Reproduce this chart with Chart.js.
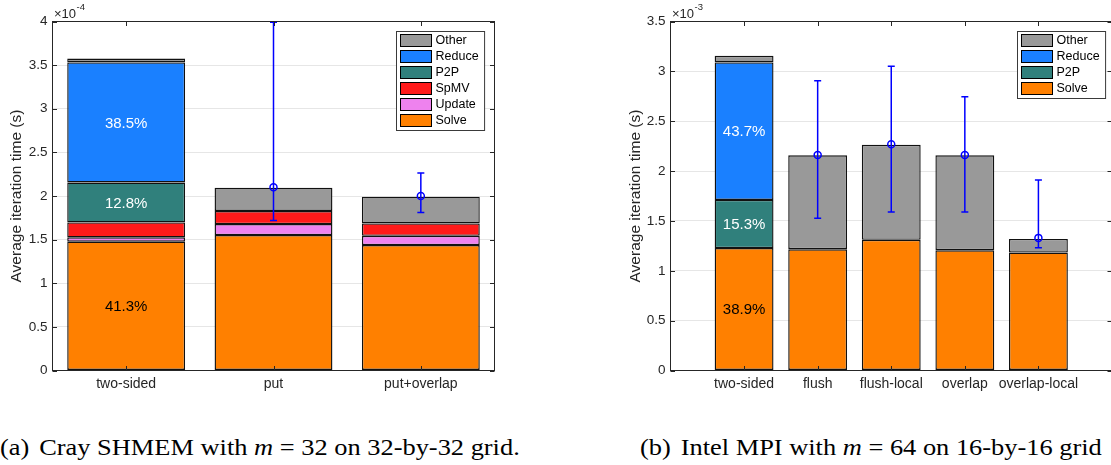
<!DOCTYPE html>
<html>
<head>
<meta charset="utf-8">
<script src="https://cdn.jsdelivr.net/npm/chart.js@4"></script>
<style>
  html, body { margin: 0; padding: 0; background: #fff; width: 1111px; height: 465px; overflow: hidden; }
  canvas { position: absolute; top: 0; }
  #chartA { left: 0; }
  #chartB { left: 560px; }
  .cap { position: absolute; top: 435px; line-height: 24px; font-family: "Liberation Serif", "Times New Roman", serif; font-size: 24px; color: #000; white-space: nowrap; transform: scaleX(1.1); transform-origin: 0 0; }
  .cap i { font-style: italic; }
  .cap .tag { margin-right: 9px; }
</style>
</head>
<body>
<canvas id="chartA" width="555" height="400"></canvas>
<canvas id="chartB" width="560" height="400"></canvas>
<div class="cap" style="left:0px"><span class="tag">(a)</span>Cray SHMEM with <i>m</i> = 32 on 32-by-32 grid.</div>
<div class="cap" style="left:640px"><span class="tag">(b)</span>Intel MPI with <i>m</i> = 64 on 16-by-16 grid</div>
<script>
// (a) Cray SHMEM, times in units of 1e-4 s
var catsA   = ['two-sided', 'put', 'put+overlap'];
var solveA  = [1.476, 1.552, 1.437];
var updateA = [0.050, 0.126, 0.107];
var spmvA   = [0.171, 0.150, 0.142];
var p2pA    = [0.458, 0, 0];
var reduceA = [1.376, 0, 0];
var otherA  = [0.045, 0.267, 0.306];
var meanA   = [null, 2.10, 2.00];
var lowA    = [null, 1.72, 1.81];
var highA   = [null, 3.99, 2.265];
var yTicksA = [0, 0.5, 1, 1.5, 2, 2.5, 3, 3.5, 4];

// (b) Intel MPI, times in units of 1e-3 s
var catsB   = ['two-sided', 'flush', 'flush-local', 'overlap', 'overlap-local'];
var solveB  = [1.228, 1.216, 1.310, 1.206, 1.183];
var p2pB    = [0.483, 0, 0, 0, 0];
var reduceB = [1.379, 0, 0, 0, 0];
var otherB  = [0.066, 0.942, 0.954, 0.952, 0.137];
var meanB   = [null, 2.16, 2.27, 2.16, 1.33];
var lowB    = [null, 1.528, 1.59, 1.59, 1.23];
var highB   = [null, 2.905, 3.05, 2.745, 1.91];
var yTicksB = [0, 0.5, 1, 1.5, 2, 2.5, 3, 3.5];

var colors = {
  Solve: '#ff8000',
  Update: '#ee82ee',
  SpMV: '#ff1a1a',
  P2P: '#30807c',
  Reduce: '#1a80ff',
  Other: '#999999'
};

var sans = '"Liberation Sans", Arial, Helvetica, sans-serif';
var axisColor = '#262626';

function stackSet(label, vals, pos) {
  return {
    type: 'bar',
    label: label,
    data: pos.map(function (x, i) { return { x: x, y: vals[i] > 0 ? vals[i] : null }; }),
    backgroundColor: colors[label],
    borderColor: '#111',
    borderWidth: 1.4,
    borderSkipped: false,
    categoryPercentage: 1,
    barPercentage: 0.8
  };
}

function meanSet(vals, pos) {
  return {
    type: 'line',
    label: 'mean',
    stack: 'err',
    order: -1,
    showLine: false,
    data: pos.map(function (x, i) { return { x: x, y: vals[i] }; }),
    pointStyle: 'circle',
    pointRadius: 3.5,
    pointBorderWidth: 1.5,
    pointBorderColor: '#0000ff',
    pointBackgroundColor: 'rgba(0,0,0,0)'
  };
}

// matlab-ish axes box, inward ticks, error whiskers, share labels, legend, exponent
var matlabLook = {
  id: 'matlabLook',
  afterDatasetsDraw: function (chart, args, o) {
    var ctx = chart.ctx, ca = chart.chartArea, x = chart.scales.x, y = chart.scales.y;
    ctx.save();

    // whiskers
    ctx.strokeStyle = '#0000ff';
    ctx.lineWidth = 1.5;
    o.pos.forEach(function (p, i) {
      if (o.low[i] == null) return;
      var px = x.getPixelForValue(p);
      var y1 = y.getPixelForValue(o.low[i]), y2 = y.getPixelForValue(o.high[i]);
      ctx.beginPath();
      ctx.moveTo(px, y1); ctx.lineTo(px, y2);
      ctx.moveTo(px - 3.5, y1); ctx.lineTo(px + 3.5, y1);
      ctx.moveTo(px - 3.5, y2); ctx.lineTo(px + 3.5, y2);
      ctx.stroke();
    });

    // box and ticks
    ctx.strokeStyle = axisColor;
    ctx.lineWidth = 1;
    ctx.strokeRect(ca.left, ca.top, ca.right - ca.left, ca.bottom - ca.top);
    var tl = 4.5;
    ctx.beginPath();
    y.ticks.forEach(function (t) {
      var py = Math.round(y.getPixelForValue(t.value)) + 0.5;
      ctx.moveTo(ca.left, py); ctx.lineTo(ca.left + tl, py);
      ctx.moveTo(ca.right, py); ctx.lineTo(ca.right - tl, py);
    });
    x.ticks.forEach(function (t) {
      var px = Math.round(x.getPixelForValue(t.value)) + 0.5;
      ctx.moveTo(px, ca.top); ctx.lineTo(px, ca.top + tl);
      ctx.moveTo(px, ca.bottom); ctx.lineTo(px, ca.bottom - tl);
    });
    ctx.stroke();

    // percentage labels on the first bar
    var bars = chart.data.datasets.filter(function (d) { return d.type === 'bar'; });
    var total = bars.reduce(function (s, d) { return s + (d.data[0].y || 0); }, 0);
    ctx.font = '15px ' + sans;
    ctx.textAlign = 'center';
    ctx.textBaseline = 'middle';
    o.shares.forEach(function (sh) {
      var di = chart.data.datasets.findIndex(function (d) { return d.label === sh.label; });
      var el = chart.getDatasetMeta(di).data[0];
      var v = chart.data.datasets[di].data[0].y;
      ctx.fillStyle = sh.color;
      ctx.fillText((v / total * 100).toFixed(1) + '%', el.x, (el.y + el.base) / 2 + 1);
    });

    // legend, top entry is the top of the stack
    var items = bars.slice().reverse();
    ctx.font = '12.5px ' + sans;
    var tw = Math.max.apply(null, items.map(function (d) { return ctx.measureText(d.label).width; }));
    var bw = 4 + 31 + 4 + tw + 6, bh = items.length * 16 + 3;
    var bx = Math.round(ca.right - o.legendRight - bw) + 0.5, by = Math.round(ca.top + 9.5) + 0.5;
    ctx.fillStyle = '#fff';
    ctx.fillRect(bx, by, bw, bh);
    ctx.strokeStyle = '#3a3a3a';
    ctx.strokeRect(bx, by, bw, bh);
    ctx.textAlign = 'left';
    items.forEach(function (d, i) {
      var sy = by + 3 + i * 16;
      ctx.fillStyle = d.backgroundColor;
      ctx.fillRect(bx + 4, sy, 31, 12);
      ctx.strokeStyle = '#000';
      ctx.strokeRect(bx + 4, sy, 31, 12);
      ctx.fillStyle = '#000';
      ctx.fillText(d.label, bx + 39, sy + 6.5);
    });

    // axis exponent
    ctx.fillStyle = axisColor;
    ctx.textBaseline = 'alphabetic';
    ctx.font = '13px ' + sans;
    ctx.fillText('\u00d710', ca.left + 1.5, ca.top - 3.5);
    var w = ctx.measureText('\u00d710').width;
    ctx.font = '9.5px ' + sans;
    ctx.fillText(o.exp, ca.left + 1.5 + w + 0.5, ca.top - 11.5);

    ctx.restore();
  }
};

function makeChart(id, p) {
  var datasets = p.series.map(function (s) { return stackSet(s[0], s[1], p.pos); });
  datasets.push(meanSet(p.mean, p.pos));
  return new Chart(document.getElementById(id), {
    data: { datasets: datasets },
    plugins: [matlabLook],
    options: {
      responsive: false,
      animation: false,
      events: [],
      layout: { padding: { left: p.padLeft, top: 21.5, right: p.padRight, bottom: 0 } },
      plugins: {
        legend: { display: false },
        tooltip: { enabled: false },
        matlabLook: {
          pos: p.pos, low: p.low, high: p.high, shares: p.shares,
          legendRight: p.legendRight, exp: p.exp
        }
      },
      scales: {
        x: {
          type: 'linear',
          min: p.xMin,
          max: p.xMax,
          offset: false,
          stacked: true,
          afterBuildTicks: function (s) { s.ticks = p.pos.map(function (v) { return { value: v }; }); },
          afterFit: function (s) { s.height = 29.5; },
          ticks: {
            autoSkip: false,
            maxRotation: 0,
            padding: 5,
            color: axisColor,
            font: { family: sans, size: 14 },
            callback: function (v, i) { return p.cats[i]; }
          },
          grid: { display: false, drawTicks: false, offset: false },
          border: { display: false }
        },
        y: {
          stacked: true,
          min: 0,
          max: p.yTicks[p.yTicks.length - 1],
          afterBuildTicks: function (s) { s.ticks = p.yTicks.map(function (v) { return { value: v }; }); },
          afterFit: function (s) { s.width = p.yWidth; },
          ticks: {
            padding: 5,
            color: axisColor,
            font: { family: sans, size: 13.5 },
            callback: function (v) { return String(+v.toFixed(2)); }
          },
          grid: { color: '#e6e6e6', drawTicks: false },
          border: { display: false },
          title: {
            display: true,
            text: 'Average iteration time (s)',
            color: axisColor,
            font: { family: sans, size: 15.5 },
            padding: { top: 7, bottom: 0 }
          }
        }
      }
    }
  });
}

makeChart('chartA', {
  cats: catsA, pos: [1, 2, 3], xMin: 0.5, xMax: 3.5,
  series: [['Solve', solveA], ['Update', updateA], ['SpMV', spmvA], ['P2P', p2pA], ['Reduce', reduceA], ['Other', otherA]],
  mean: meanA, low: lowA, high: highA, yTicks: yTicksA, exp: '-4',
  shares: [{ label: 'Solve', color: '#000' }, { label: 'P2P', color: '#fff' }, { label: 'Reduce', color: '#fff' }],
  padLeft: 0, padRight: 60.5, yWidth: 52.5, legendRight: 10
});

makeChart('chartB', {
  cats: catsB, pos: [1, 2, 3, 4, 5], xMin: 0, xMax: 6,
  series: [['Solve', solveB], ['P2P', p2pB], ['Reduce', reduceB], ['Other', otherB]],
  mean: meanB, low: lowB, high: highB, yTicks: yTicksB, exp: '-3',
  shares: [{ label: 'Solve', color: '#000' }, { label: 'P2P', color: '#fff' }, { label: 'Reduce', color: '#fff' }],
  padLeft: 59, padRight: 8, yWidth: 51.5, legendRight: 7
});
</script>
</body>
</html>
